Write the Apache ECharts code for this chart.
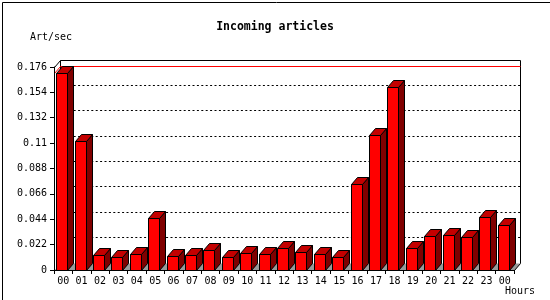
<!DOCTYPE html>
<html><head><meta charset="utf-8">
<script src="https://cdn.jsdelivr.net/npm/echarts@6/dist/echarts.min.js"></script>
<style>html,body{margin:0;padding:0;background:#fff}#c{width:550px;height:300px}</style>
</head><body><div id="c"></div>
<script>
const hours = ['00','01','02','03','04','05','06','07','08','09','10','11','12','13','14','15','16','17','18','19','20','21','22','23','00'];
const artPerSec = [0.170,0.1117,0.0127,0.011,0.0136,0.0449,0.0119,0.0127,0.0171,0.011,0.0145,0.0136,0.0188,0.0154,0.0136,0.011,0.0744,0.117,0.1586,0.0188,0.0293,0.0301,0.0284,0.0458,0.0388];
const yTickValues = [0,0.022,0.044,0.066,0.088,0.11,0.132,0.154,0.176];
const yTickLabels = ['0','0.022','0.044','0.066','0.088','0.11','0.132','0.154','0.176'];

const DX = 6, DY = 7;
const FONT = 'DejaVu Sans Mono';
const px = v => Math.floor(v) + 0.5;

function backdrop(params, api) {
  const bw = api.size([1, 0])[0];
  const x0 = px(api.coord([0, 0])[0] - bw / 2);
  const x1 = px(api.coord([hours.length - 1, 0])[0] + bw / 2);
  const y0 = px(api.coord([0, 0])[1]);
  const yTop = px(api.coord([0, yTickValues[yTickValues.length - 1]])[1]);
  const yMax = px(api.coord([0, Math.max.apply(null, artPerSec)])[1]);
  const children = [];
  children.push({type: 'polygon', shape: {points: [[x0, y0], [x1, y0], [x1 + DX, y0 - DY], [x0 + DX, y0 - DY]]},
    style: {fill: '#999999', stroke: null}});
  children.push({type: 'line', shape: {x1: x1, y1: y0, x2: x1 + DX, y2: y0 - DY}, style: {stroke: '#000', lineWidth: 1}});
  for (let k = 1; k < yTickValues.length - 1; k++) {
    const y = px(api.coord([0, yTickValues[k]])[1]) - DY;
    children.push({type: 'line', shape: {x1: x0 + DX, y1: y, x2: x1 + DX, y2: y},
      style: {stroke: '#000', lineWidth: 1, lineDash: [2, 2.4]}});
  }
  children.push({type: 'polyline', shape: {points: [[x0, yTop], [x0 + DX, yTop - DY], [x1 + DX, yTop - DY], [x1 + DX, y0 - DY]]},
    style: {stroke: '#000', lineWidth: 1, fill: null}});
  children.push({type: 'line', shape: {x1: x0 + DX, y1: yTop - DY, x2: x0 + DX, y2: y0 - DY}, style: {stroke: '#000', lineWidth: 1}});
  children.push({type: 'polyline', shape: {points: [[x0, yMax], [x0 + DX, yMax - DY], [x1 + DX, yMax - DY]]},
    style: {stroke: '#ff0000', lineWidth: 1, fill: null}});
  return {type: 'group', children: children};
}

function bar3d(params, api) {
  const i = api.value(0), v = api.value(1);
  const c = api.coord([i, v]);
  const b = api.coord([i, 0]);
  const fl = px(c[0] - 6.5), fr = px(c[0] + 4.5);
  const top = px(c[1]), bot = px(b[1]);
  const st = {stroke: '#000', lineWidth: 1};
  return {type: 'group', children: [
    {type: 'polygon', shape: {points: [[fr, top], [fr + DX, top - DY], [fr + DX, bot - DY], [fr, bot]]},
      style: Object.assign({fill: '#800000'}, st)},
    {type: 'polygon', shape: {points: [[fl, top], [fr, top], [fr + DX, top - DY], [fl + DX, top - DY]]},
      style: Object.assign({fill: '#c40000'}, st)},
    {type: 'polygon', shape: {points: [[fl, top], [fr, top], [fr, bot], [fl, bot]]},
      style: Object.assign({fill: '#ff0000'}, st)}
  ]};
}

const chart = echarts.init(document.getElementById('c'), null, {renderer: 'canvas'});
chart.setOption({
  animation: false,
  backgroundColor: '#fff',
  title: {text: 'Incoming articles', left: 'center', top: 21, padding: 0,
    textStyle: {fontFamily: FONT, fontWeight: 'bold', fontSize: 11.5, color: '#000'}},
  grid: {left: 54, top: 67, right: 36, bottom: 30, containLabel: false},
  xAxis: {type: 'category', data: hours, z: 10,
    axisLine: {show: true, lineStyle: {color: '#000', width: 1}},
    axisTick: {show: true, length: 4, lineStyle: {color: '#000'}},
    axisLabel: {fontFamily: FONT, fontSize: 10, color: '#000', margin: 6, interval: 0},
    splitLine: {show: false}},
  yAxis: {type: 'value', min: 0, max: 0.176, interval: 0.022, z: 10,
    axisLine: {show: true, lineStyle: {color: '#000', width: 1}},
    axisTick: {show: true, length: 4, lineStyle: {color: '#000'}},
    axisLabel: {fontFamily: FONT, fontSize: 10, color: '#000', margin: 7,
      formatter: (val, idx) => yTickLabels[idx]},
    splitLine: {show: false}},
  graphic: [
    {type: 'text', left: 30, top: 32, style: {text: 'Art/sec', font: '10px "DejaVu Sans Mono"', fill: '#000'}},
    {type: 'text', left: 505, top: 286, style: {text: 'Hours', font: '10px "DejaVu Sans Mono"', fill: '#000'}},
    {type: 'rect', left: 0, top: 0, shape: {x: 0.5, y: 0.5, width: 548, height: 298},
      style: {fill: null, stroke: '#000', lineWidth: 1}, silent: true}
  ],
  series: [
    {type: 'custom', z: 1, renderItem: backdrop, data: [[0, 0]], silent: true},
    {type: 'custom', z: 3, renderItem: bar3d, data: artPerSec.map((v, i) => [i, v]), silent: true}
  ]
});
</script></body></html>
